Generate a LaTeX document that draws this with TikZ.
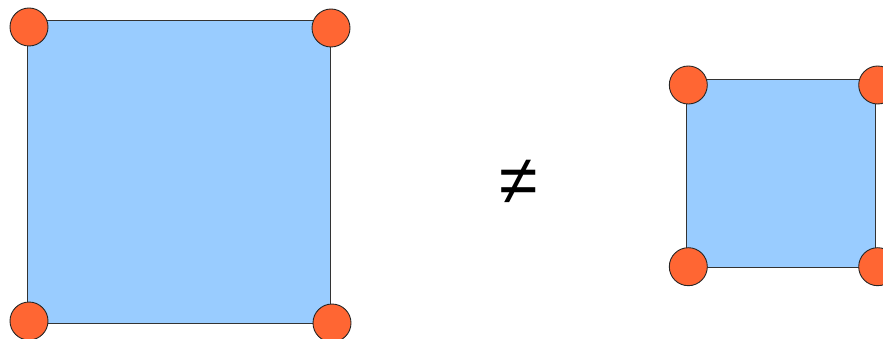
\documentclass[tikz,border=0pt]{standalone}
\usepackage{fontspec}
\newfontfamily\symfont{Liberation Sans}
\begin{document}
\begin{tikzpicture}[x=1pt,y=-1pt,
  sq/.style={draw=black!80,line width=1pt,fill={rgb,255:red,153;green,204;blue,255},inner sep=0pt,outer sep=0pt},
  dot/.style={circle,draw=black!85,line width=0.9pt,fill={rgb,255:red,255;green,102;blue,51},minimum size=38pt,inner sep=0pt}]
\useasboundingbox (0,0) rectangle (883,339);
\clip (0,0) rectangle (883,339);
\node[sq,minimum width=303pt,minimum height=302pt] (bigsq) at (178.5,172) {};
\node[dot] (b1) at (29,27) {};
\node[dot] (b2) at (331,28) {};
\node[dot] (b3) at (29,321) {};
\node[dot] (b4) at (332,323) {};
\node[font=\symfont\fontsize{70}{70}\selectfont,inner sep=0pt] (neq) at (519,182.5) {≠};
\node[sq,minimum width=189pt,minimum height=188pt] (smsq) at (781.2,173.2) {};
\node[dot] (s1) at (688.3,85) {};
\node[dot] (s2) at (877.7,85) {};
\node[dot] (s3) at (688.3,266.7) {};
\node[dot] (s4) at (877.7,266.7) {};
\end{tikzpicture}
\end{document}
